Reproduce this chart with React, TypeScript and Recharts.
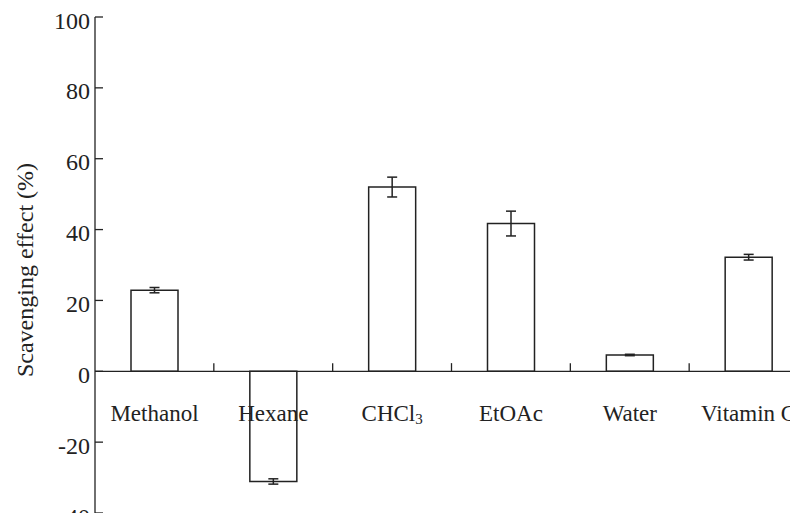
import { BarChart, Bar, XAxis, YAxis, ErrorBar, ReferenceLine, LabelList } from 'recharts';

const solvents = ['Methanol', 'Hexane', 'CHCl3', 'EtOAc', 'Water', 'Vitamin C'];
const scavenging = [22.9, -31.1, 52.0, 41.7, 4.6, 32.2];
const sd = [0.75, 0.75, 2.8, 3.5, 0.2, 0.8];
const yTicks = [-40, -20, 0, 20, 40, 60, 80, 100];
const dividers = [1, 2, 3, 4, 5];   // small marks between categories on the zero line

const INK = '#222';
const SERIF = '"Liberation Serif", "Times New Roman", serif';

// pos = centre of each category on a 0..6 number line, used only for the divider marks
const data = solvents.map((name, i) => ({ name, pos: i + 0.5, value: scavenging[i], err: sd[i] }));

// category name under the zero line, digits drawn as subscript (CHCl3)
function CategoryName(props: any) {
  const { x, y, width, height, value, index } = props;
  const top = Math.min(y, y + height);
  const bottom = Math.max(y, y + height);
  const zero = scavenging[index] >= 0 ? bottom : top;
  const parts = String(value).split(/(\d+)/).filter(Boolean);
  return (
    <text x={x + width / 2} y={zero + 50} textAnchor="middle" fill={INK} fontFamily={SERIF} fontSize={23}>
      {parts.map((p, i) =>
        /^\d+$/.test(p) ? (
          <tspan key={i} fontSize={15} dy={3}>{p}</tspan>
        ) : (
          <tspan key={i} dy={i > 0 && /^\d+$/.test(parts[i - 1]) ? -3 : 0}>{p}</tspan>
        )
      )}
    </text>
  );
}

export default function App() {
  return (
    <div style={{ margin: -8, width: 798, height: 521, overflow: 'hidden', background: '#fff' }}>
      <BarChart width={820} height={521} data={data} margin={{ top: 17, right: 12, bottom: 8, left: 0 }}>
        <XAxis dataKey="name" hide />
        <XAxis xAxisId="grid" dataKey="pos" type="number" domain={[0, 6]} allowDataOverflow hide />
        <YAxis
          width={95}
          domain={[-40, 100]}
          ticks={yTicks}
          interval={0}
          allowDataOverflow
          tickSize={-8}
          tickMargin={13}
          axisLine={{ stroke: INK, strokeWidth: 1.3 }}
          tickLine={{ stroke: INK, strokeWidth: 1.3 }}
          tick={{ fill: INK, fontSize: 24, fontFamily: SERIF, dy: 3 }}
          label={{
            content: () => (
              <text
                x={33} y={270} transform="rotate(-90 33 270)" textAnchor="middle"
                fill={INK} fontSize={24} fontFamily={SERIF}
              >
                Scavenging effect (%)
              </text>
            ),
          }}
        />
        <ReferenceLine y={0} stroke={INK} strokeWidth={1.3} />
        {dividers.map((d) => (
          <ReferenceLine
            key={d} xAxisId="grid"
            segment={[{ x: d, y: 0 }, { x: d, y: 2.3 }]}
            stroke={INK} strokeWidth={1.3}
          />
        ))}
        <Bar dataKey="value" barSize={47} fill="#fff" stroke={INK} strokeWidth={1.5} isAnimationActive={false}>
          <ErrorBar dataKey="err" width={5} stroke={INK} strokeWidth={1.5} direction="y" />
          <LabelList dataKey="name" content={CategoryName} />
        </Bar>
      </BarChart>
    </div>
  );
}
